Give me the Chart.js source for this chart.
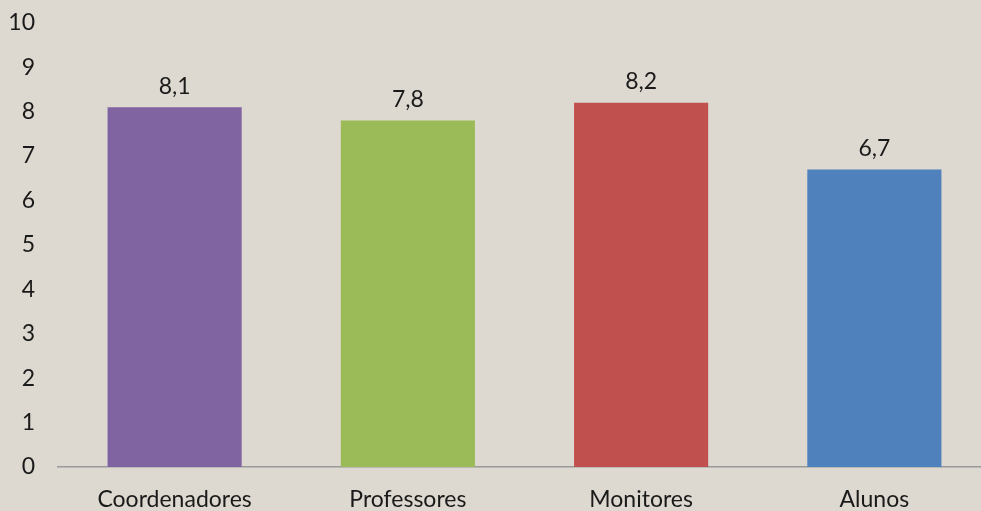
<!DOCTYPE html>
<html>
<head>
<meta charset="utf-8">
<script src="https://cdn.jsdelivr.net/npm/chart.js@4"></script>
<style>
html,body{margin:0;padding:0;overflow:hidden;background:#DDD9D0;}
#wrap{width:991px;height:517px;margin-top:-6px;}
</style>
</head>
<body>
<div id="wrap"><canvas id="chart"></canvas></div>
<script>
// Data
const categories = ['Coordenadores','Professores','Monitores','Alunos'];
const values = [8.1, 7.8, 8.2, 6.7];
const barColors = ['#8064A2','#9BBB59','#C0504D','#4F81BD'];
const yTicks = [0,1,2,3,4,5,6,7,8,9,10];

const FONT = 'Lato, "Open Sans", sans-serif';

// value labels above bars (comma decimal)
const valueLabels = {
  id:'valueLabels',
  afterDatasetsDraw(chart){
    const ctx = chart.ctx;
    const meta = chart.getDatasetMeta(0);
    ctx.save();
    ctx.font = '23px ' + FONT;
    ctx.fillStyle = '#1a1a1a';
    ctx.textAlign = 'center';
    ctx.textBaseline = 'middle';
    meta.data.forEach((bar,i)=>{
      ctx.fillText(values[i].toFixed(1).replace('.',','), bar.x, bar.y - 21);
    });
    ctx.restore();
  }
};

new Chart(document.getElementById('chart'), {
  type:'bar',
  data:{labels:categories, datasets:[{data:values, backgroundColor:barColors, categoryPercentage:1, barPercentage:0.575}]},
  options:{
    responsive:true, maintainAspectRatio:false, animation:false,
    layout:{padding:{top:0,right:0,left:0,bottom:0}},
    plugins:{legend:{display:false}, tooltip:{enabled:false}},
    scales:{
      x:{
        grid:{display:false},
        border:{display:true,color:'#9a9a9a',width:1.5},
        ticks:{color:'#1a1a1a',font:{family:FONT,size:23},padding:11},
        afterFit(s){ s.height = 44; }
      },
      y:{
        min:0,max:10,
        grid:{display:false},
        border:{display:false},
        afterBuildTicks(s){ s.ticks = yTicks.map(v=>({value:v})); },
        ticks:{color:'#1a1a1a',font:{family:FONT,size:23},padding:15},
        afterFit(s){ s.width = 58; }
      }
    }
  },
  plugins:[valueLabels]
});
</script>
</body>
</html>
